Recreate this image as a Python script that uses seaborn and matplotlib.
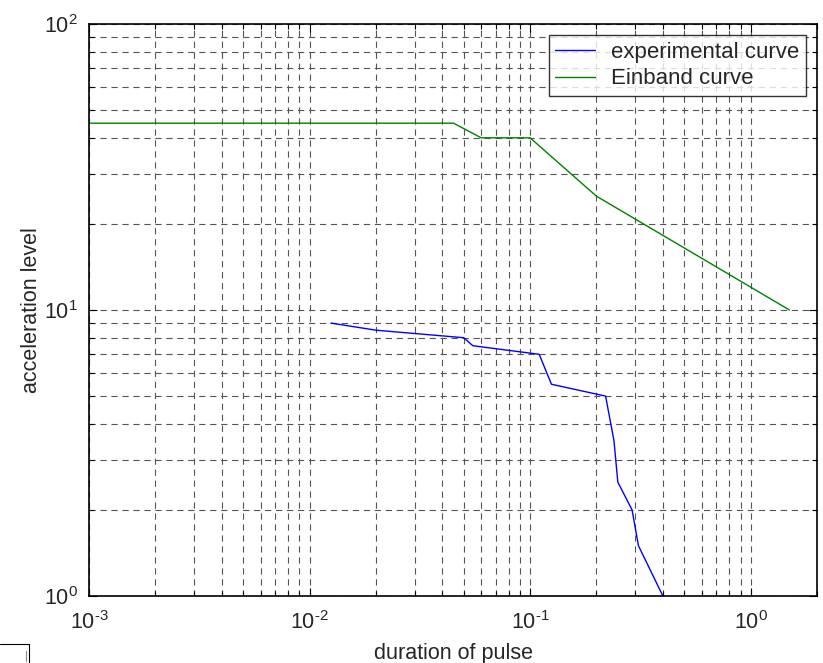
import numpy as np
import pandas as pd
import matplotlib
matplotlib.use('Agg')
import matplotlib.pyplot as plt
import seaborn as sns
from matplotlib.lines import Line2D
from matplotlib.ticker import FuncFormatter, LogLocator

# experimental curve
exp_duration = [0.0125, 0.02, 0.05, 0.055, 0.11, 0.125, 0.22, 0.24, 0.25, 0.29, 0.31, 0.4]
exp_accel = [9.0, 8.5, 8.0, 7.5, 7.0, 5.5, 5.0, 3.5, 2.5, 2.0, 1.5, 1.0]

# Einband curve
ein_duration = [0.001, 0.045, 0.06, 0.1, 0.2, 1.5]
ein_accel = [45, 45, 40, 40, 25, 10]

df_exp = pd.DataFrame({'duration': exp_duration, 'accel': exp_accel})
df_ein = pd.DataFrame({'duration': ein_duration, 'accel': ein_accel})

sns.set_theme(style='white')
plt.rcParams['font.family'] = ['Liberation Sans', 'DejaVu Sans']
plt.rcParams['mathtext.fontset'] = 'custom'
plt.rcParams['mathtext.rm'] = 'Liberation Sans'
plt.rcParams['mathtext.it'] = 'Liberation Sans'
plt.rcParams['axes.unicode_minus'] = False
plt.rcParams['lines.scale_dashes'] = False


def pow10(v, pos):
    # matlab style labels with a plain hyphen in the exponent
    e = int(round(np.log10(v)))
    return r'$10^{\text{%d}}$' % e


fig = plt.figure(figsize=(8.23, 6.63), dpi=100)
ax = fig.add_axes([89 / 823, 67 / 663, 728 / 823, 572 / 663])

sns.lineplot(data=df_exp, x='duration', y='accel', ax=ax, color='#0000ff',
             linewidth=1.0, estimator=None, sort=False, label='experimental curve')
sns.lineplot(data=df_ein, x='duration', y='accel', ax=ax, color='#008000',
             linewidth=1.0, estimator=None, sort=False, label='Einband curve')

ax.set_xscale('log')
ax.set_yscale('log')
ax.set_xlim(1e-3, 2)
ax.set_ylim(1, 100)
ax.xaxis.set_major_locator(LogLocator(base=10))
ax.yaxis.set_major_locator(LogLocator(base=10))
ax.xaxis.set_major_formatter(FuncFormatter(pow10))
ax.yaxis.set_major_formatter(FuncFormatter(pow10))

ax.grid(True, which='both', linestyle=(0, (4.5, 3.4)), color='#555555', linewidth=0.8)
ax.tick_params(which='both', direction='in', top=True, right=True,
               bottom=True, left=True, labelsize=15.5, color='black')
ax.tick_params(which='major', length=6, width=0.8)
ax.tick_params(which='minor', length=3.5, width=0.8)
ax.tick_params(axis='x', which='major', pad=11)
ax.tick_params(axis='y', which='major', pad=8)
for s in ax.spines.values():
    s.set_color('black')
    s.set_linewidth(1.2)

ax.set_xlabel('duration of pulse', fontsize=15.5, labelpad=6)
ax.set_ylabel('acceleration level', fontsize=15.5, labelpad=1)

leg = ax.legend(loc='upper right', fontsize=16, frameon=True, fancybox=False,
                edgecolor='black', borderaxespad=0.5, handlelength=1.8,
                handletextpad=0.7, labelspacing=0.25, borderpad=0.3)
leg.get_frame().set_linewidth(1.0)

# little box fragment at the lower-left corner
fig.add_artist(Line2D([0, 29 / 823], [19 / 663, 19 / 663], color='black', lw=0.8))
fig.add_artist(Line2D([29 / 823, 29 / 823], [0, 19 / 663], color='black', lw=0.8))
fig.add_artist(Line2D([26 / 823, 26 / 823], [2 / 663, 12 / 663], color='#888888', lw=0.8))

fig.savefig('out.png', dpi=100)
